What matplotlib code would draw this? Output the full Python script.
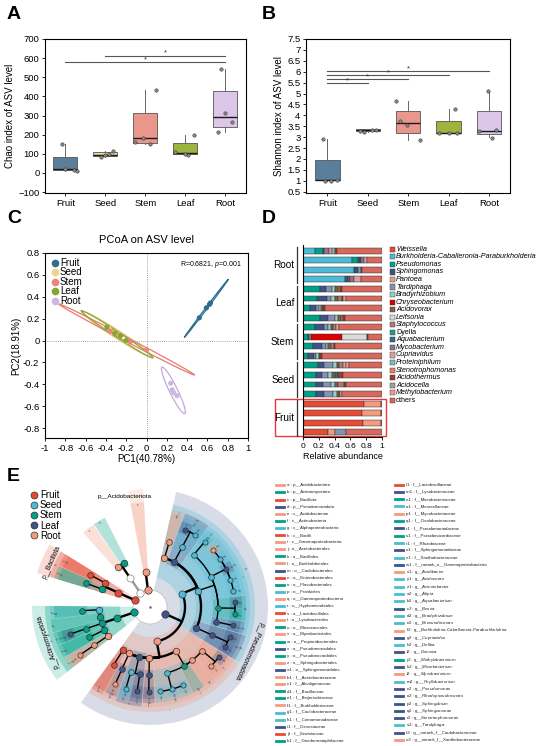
import numpy as np
import matplotlib
matplotlib.use("Agg")
import matplotlib.pyplot as plt
from matplotlib.patches import Wedge, Rectangle, Ellipse, Circle
from matplotlib.lines import Line2D

# ============================ DATA ============================
groups = ["Fruit", "Seed", "Stem", "Leaf", "Root"]

# ---- A: Chao index of ASV level ----
chao_whislo = [10, 85, 150, 95, 215]
chao_q1 = [15, 90, 158, 98, 240]
chao_med = [20, 96, 180, 106, 290]
chao_q3 = [85, 108, 315, 155, 430]
chao_whishi = [150, 112, 435, 200, 545]
chao_fruit = [150, 20, 15, 10]
chao_seed = [85, 112, 95, 100]
chao_stem = [435, 185, 160, 150]
chao_leaf = [200, 110, 95, 100]
chao_root = [545, 315, 265, 215]
chao_sig_from = [1, 2]
chao_sig_to = [5, 5]
chao_sig_y = [580, 613]

# ---- B: Shannon index of ASV level ----
shan_whislo = [1.0, 3.25, 2.85, 3.18, 3.0]
shan_q1 = [1.02, 3.28, 3.2, 3.18, 3.15]
shan_med = [1.03, 3.32, 3.65, 3.2, 3.3]
shan_q3 = [1.95, 3.36, 4.2, 3.75, 4.22]
shan_whishi = [2.9, 3.38, 4.65, 4.3, 5.1]
shan_fruit = [2.9, 1.0, 1.02, 1.0]
shan_seed = [3.3, 3.22, 3.35, 3.32]
shan_stem = [4.65, 3.75, 3.55, 2.85]
shan_leaf = [4.3, 3.2, 3.2, 3.2]
shan_root = [5.1, 3.3, 3.32, 2.95]
shan_sig_from = [1, 1, 1, 1]
shan_sig_to = [2, 3, 4, 5]
shan_sig_y = [5.48, 5.66, 5.85, 6.04]

# ---- C: PCoA on ASV level ----
pc_fruit_x = [0.52, 0.63, 0.62, 0.59]
pc_fruit_y = [0.208, 0.343, 0.330, 0.299]
pc_seed_x = [-0.370, -0.332, -0.266, -0.191]
pc_seed_y = [0.111, 0.071, 0.053, -0.004]
pc_stem_x = [-0.16, 0.0, -0.263, -0.357]
pc_stem_y = [-0.01, -0.085, 0.0495, 0.0845]
pc_leaf_x = [-0.390, -0.314, -0.256, -0.2005]
pc_leaf_y = [0.121, 0.064, 0.044, 0.0015]
pc_root_x = [0.238, 0.253, 0.301, 0.268]
pc_root_y = [-0.390, -0.450, -0.504, -0.476]
pc1_label = "PC1(40.78%)"
pc2_label = "PC2(18.91%)"
anosim_text = "R=0.6821, $\\mathit{p}$=0.001"

# ---- D: relative abundance (rows top->bottom: Root1-4, Leaf1-4, Stem1-4, Seed1-4, Fruit1-4) ----
genus_names = ["Weissella", "Burkholderia-Caballeronia-Paraburkholderia", "Pseudomonas",
               "Sphingomonas", "Pantoea", "Tardiphaga", "Bradyrhizobium", "Chryseobacterium",
               "Acidovorax", "Leifsonia", "Staphylococcus", "Dyella", "Aquabacterium",
               "Mycobacterium", "Cupriavidus", "Proteiniphilum", "Stenotrophomonas",
               "Acidothermus", "Acidocella", "Methylobacterium", "others"]
weissella = [0, 0, 0, 0, 0, 0, 0, 0, 0, 0, 0, 0, 0, 0, 0, 0, .77, .75, .76, .32]
burkholderia = [.15, .62, .64, .53, 0, 0, 0, 0, 0, 0, 0, 0, 0, 0, 0, 0, 0, 0, 0, 0]
pseudomonas = [.10, .08, .02, 0, .21, .18, .09, .22, .15, .06, .13, .06, .19, .16, .17, .17, 0, 0, 0, 0]
sphingomonas = [.02, .02, .04, .04, .08, .12, .07, .10, .11, .02, .11, .08, .08, .08, .08, .10, 0, 0, 0, 0]
pantoea = [0, 0, 0, 0, 0, 0, 0, 0, 0, 0, 0, 0, 0, 0, 0, 0, .22, .24, .23, .08]
tardiphaga = [0, 0, .03, 0, .08, .05, .04, .08, .06, .02, .05, .03, .11, .08, .10, .11, 0, 0, 0, .15]
bradyrhizobium = [0, 0, 0, 0, .04, .05, .03, .04, .03, 0, .03, .03, .05, .05, .05, .05, 0, 0, 0, 0]
chryseobacterium = [0, 0, 0, 0, 0, 0, 0, 0, 0, .39, 0, 0, 0, 0, 0, 0, 0, 0, 0, 0]
acidovorax = [0, .02, .02, .02, .03, .04, .02, .04, .03, 0, .04, .02, .03, .04, .04, .02, 0, 0, 0, 0]
leifsonia = [0, 0, 0, 0, 0, 0, 0, 0, 0, .32, 0, 0, 0, 0, 0, 0, 0, 0, 0, 0]
staphylococcus = [0, 0, 0, 0, .03, .05, 0, .03, .04, 0, .03, 0, .05, 0, .08, .02, 0, 0, 0, 0]
dyella = [0, 0, 0, 0, 0, 0, 0, 0, 0, 0, 0, 0, 0, 0, 0, 0, 0, 0, 0, 0]
aquabacterium = [0, 0, 0, 0, 0, 0, 0, 0, 0, 0, 0, 0, 0, .03, 0, 0, 0, 0, 0, 0]
mycobacterium = [.06, .03, 0, .06, 0, 0, 0, 0, 0, 0, 0, 0, 0, 0, 0, 0, 0, 0, 0, 0]
cupriavidus = [.04, .04, 0, .08, 0, 0, 0, 0, 0, 0, 0, 0, .04, 0, 0, 0, 0, 0, 0, 0]
proteiniphilum = [.03, 0, 0, 0, 0, 0, 0, 0, 0, 0, 0, 0, 0, 0, 0, 0, 0, 0, 0, 0]
stenotrophomonas = [0, 0, 0, 0, 0, 0, 0, 0, 0, 0, 0, 0, 0, 0, 0, 0, 0, 0, 0, 0]
acidothermus = [.03, 0, 0, 0, .02, .02, .03, .02, 0, .01, .02, .02, 0, .06, .02, 0, 0, 0, 0, 0]
acidocella = [0, 0, 0, 0, 0, 0, 0, 0, 0, 0, 0, 0, 0, 0, 0, 0, 0, 0, 0, 0]
methylobacterium = [0, 0, 0, 0, 0, .03, 0, 0, .03, 0, 0, 0, .03, 0, 0, .02, 0, 0, 0, 0]
others = [.57, .19, .25, .27, .51, .46, .72, .47, .55, .18, .59, .76, .42, .50, .46, .51, .01, .01, .01, .45]
sample_groups = ["Root", "Leaf", "Stem", "Seed", "Fruit"]

# ---- E: LEfSe cladogram (taxon, parent, enriched group, label letter) ----
tax_name = [
    "root",
    "p__Acidobacteriota", "c__Acidobacteriae",
    "p__Bacteroidota", "c__Bacteroidia", "o__Flavobacteriales", "o__Sphingobacteriales",
    "p__Bacillota", "c__Bacilli", "o__Lactobacillales", "f__Lactobacillaceae", "o__Bacillales", "f__Bacillaceae",
    "p__Actinomycetota", "c__Actinobacteria", "o__Frankiales", "f__Geodermatophilaceae",
    "o__Propionibacteriales", "o__Micrococcales", "f__Microbacteriaceae", "g__Microbacterium",
    "o__Pseudonocardiales", "f__Pseudonocardiaceae", "o__Mycobacteriales", "f__Mycobacteriaceae",
    "g__Mycobacterium",
    "p__Pseudomonadota", "c__Gammaproteobacteria", "o__Enterobacterales", "f__Erwiniaceae",
    "o__Gammaproteobacteria", "f__norank_o__Gammaproteobacteria", "g__Acidibacter",
    "o__Pseudomonadales", "f__Moraxellaceae", "g__Acinetobacter", "f__Pseudomonadaceae", "g__Pseudomonas",
    "o__Lysobacterales", "f__Lysobacteraceae", "g__Stenotrophomonas",
    "o__Burkholderiales", "f__Comamonadaceae", "g__Acidovorax", "g__Aquabacterium", "g__Delftia",
    "f__Oxalobacteraceae", "f__Alcaligenaceae", "f__Burkholderiaceae",
    "g__Burkholderia-Caballeronia-Paraburkholderia", "g__Cupriavidus",
    "c__Alphaproteobacteria", "o__Sphingomonadales", "f__Sphingomonadaceae", "g__Sphingobium",
    "g__Sphingomonas", "o__Hyphomicrobiales", "f__Devosiaceae", "g__Devosia", "f__Beijerinckiaceae",
    "g__Methylobacterium", "g__Bosea", "f__Xanthobacteraceae", "g__Afipia", "g__Bradyrhizobium",
    "g__Rhodopseudomonas", "g__Tardiphaga", "g__norank_f__Xanthobacteraceae", "f__Rhizobiaceae",
    "g__Phyllobacterium", "o__Caulobacterales", "f__Caulobacteraceae", "g__Brevundimonas",
    "g__norank_f__Caulobacteraceae", "o__Acetobacterales", "f__Acetobacteraceae",
]
tax_parent = [
    "",
    "root", "p__Acidobacteriota",
    "root", "p__Bacteroidota", "c__Bacteroidia", "c__Bacteroidia",
    "root", "p__Bacillota", "c__Bacilli", "o__Lactobacillales", "c__Bacilli", "o__Bacillales",
    "root", "p__Actinomycetota", "c__Actinobacteria", "o__Frankiales",
    "c__Actinobacteria", "c__Actinobacteria", "o__Micrococcales", "f__Microbacteriaceae",
    "c__Actinobacteria", "o__Pseudonocardiales", "c__Actinobacteria", "o__Mycobacteriales",
    "f__Mycobacteriaceae",
    "root", "p__Pseudomonadota", "c__Gammaproteobacteria", "o__Enterobacterales",
    "c__Gammaproteobacteria", "o__Gammaproteobacteria", "f__norank_o__Gammaproteobacteria",
    "c__Gammaproteobacteria", "o__Pseudomonadales", "f__Moraxellaceae", "o__Pseudomonadales", "f__Pseudomonadaceae",
    "c__Gammaproteobacteria", "o__Lysobacterales", "f__Lysobacteraceae",
    "c__Gammaproteobacteria", "o__Burkholderiales", "f__Comamonadaceae", "f__Comamonadaceae", "f__Comamonadaceae",
    "o__Burkholderiales", "o__Burkholderiales", "o__Burkholderiales",
    "f__Burkholderiaceae", "f__Burkholderiaceae",
    "p__Pseudomonadota", "c__Alphaproteobacteria", "o__Sphingomonadales", "f__Sphingomonadaceae",
    "f__Sphingomonadaceae", "c__Alphaproteobacteria", "o__Hyphomicrobiales", "f__Devosiaceae", "o__Hyphomicrobiales",
    "f__Beijerinckiaceae", "f__Beijerinckiaceae", "o__Hyphomicrobiales", "f__Xanthobacteraceae", "f__Xanthobacteraceae",
    "f__Xanthobacteraceae", "f__Xanthobacteraceae", "f__Xanthobacteraceae", "o__Hyphomicrobiales",
    "f__Rhizobiaceae", "c__Alphaproteobacteria", "o__Caulobacterales", "f__Caulobacteraceae",
    "f__Caulobacteraceae", "c__Alphaproteobacteria", "o__Acetobacterales",
]
tax_group = [
    "",
    "Root", "Root",
    "", "", "Stem", "Root",
    "Fruit", "Fruit", "Fruit", "Fruit", "Stem", "Stem",
    "Stem", "Stem", "Seed", "Stem", "Stem", "Stem", "Stem", "Leaf", "Stem", "Stem", "Root", "Root", "Root",
    "Leaf", "Root", "Fruit", "Fruit", "Root", "Leaf", "Root", "Leaf", "Seed", "Seed", "Leaf", "Leaf",
    "Root", "Leaf", "Leaf", "Root", "Seed", "Seed", "Seed", "Seed", "Stem", "Root", "Root", "Root", "Leaf",
    "Seed", "Leaf", "Leaf", "Leaf", "Leaf", "Seed", "Leaf", "Leaf", "Stem", "Stem", "Leaf", "Seed", "Seed",
    "Seed", "Leaf", "Seed", "Root", "Seed", "Seed", "Leaf", "Seed", "Seed", "Leaf", "Root", "Root",
]
tax_letter = [
    "",
    "a", "e",
    "", "", "o", "z",
    "c", "h", "s", "l1", "k", "d1",
    "b", "f", "p", "k1", "w", "u", "n1", "k2", "y", "s1", "v", "p1", "l2",
    "d", "i", "n", "j1", "q", "w1", "x1", "x", "o1", "z1", "r1", "n2", "t", "m1", "r2",
    "l", "h1", "y1", "b2", "h2", "q1", "c1", "f1", "f2", "g2",
    "g", "a1", "u1", "p2", "q2", "r", "i1", "i2", "e1", "j2", "c2", "v1", "a2", "d2", "o2", "s2", "u2",
    "t1", "m2", "m", "g1", "e2", "t2", "j", "b1",
]

# ============================ STYLE ============================
plt.rcParams["font.family"] = ["Liberation Sans", "DejaVu Sans"]
plt.rcParams["mathtext.fontset"] = "custom"
plt.rcParams["mathtext.it"] = "Liberation Sans:italic"
plt.rcParams["mathtext.rm"] = "Liberation Sans"
plt.rcParams["axes.linewidth"] = 0.8
plt.rcParams["xtick.major.size"] = 2.5
plt.rcParams["ytick.major.size"] = 2.5
plt.rcParams["xtick.major.width"] = 0.6
plt.rcParams["ytick.major.width"] = 0.6
plt.rcParams["xtick.major.pad"] = 1.5
plt.rcParams["ytick.major.pad"] = 1.5

W, H = 550, 746
fig = plt.figure(figsize=(W / 100, H / 100), dpi=100)


def add_ax(l, t, r, b):
    return fig.add_axes([l / W, 1 - b / H, (r - l) / W, (b - t) / H])


def fx(x):
    return x / W


def fy(y):
    return 1 - y / H


box_colors = ["#5b7f9a", "#e9d6a0", "#e9968b", "#9db53e", "#dcc7e8"]
jit_A = [[-0.08, 0.0, 0.22, 0.28], [-0.1, 0.18, 0.0, 0.08], [0.27, -0.07, -0.27, 0.12],
         [0.21, -0.25, 0.07, 0.0], [-0.1, 0.0, 0.18, -0.17]]
jit_B = [[-0.12, -0.06, 0.23, 0.1], [-0.2, -0.1, 0.1, 0.2], [-0.29, -0.2, -0.02, 0.29],
         [0.16, -0.23, 0.0, 0.22], [-0.02, -0.24, 0.17, 0.08]]


def box_panel(ax, lo, q1, med, q3, hi, pts, jit):
    stats = [dict(whislo=a, q1=b, med=c, q3=d, whishi=e, fliers=[])
             for a, b, c, d, e in zip(lo, q1, med, q3, hi)]
    bp = ax.bxp(stats, positions=np.arange(1, 6), widths=0.6, patch_artist=True,
                showcaps=False, showfliers=False,
                boxprops=dict(edgecolor="#555555", linewidth=0.6),
                medianprops=dict(color="#1a1a1a", linewidth=1.0),
                whiskerprops=dict(color="#666666", linewidth=0.7))
    for patch, c in zip(bp["boxes"], box_colors):
        patch.set_facecolor(c)
    for i, (vals, jj) in enumerate(zip(pts, jit)):
        ax.scatter(i + 1 + np.array(jj), vals, s=6, facecolor="#8a8a8a",
                   edgecolor="#3a3a3a", linewidth=0.4, zorder=4)
    ax.set_xticks(np.arange(1, 6))
    ax.set_xticklabels(groups, fontsize=6.8)
    ax.tick_params(axis="y", labelsize=6.8)


def sig_lines(ax, f, t, y, off):
    for a, b, yy in zip(f, t, y):
        ax.plot([a, b], [yy, yy], color="#555555", lw=0.8)
        ax.text((a + b) / 2, yy + off, "*", ha="center", va="bottom", fontsize=5.5, color="#333333")


# ---------------- Panel A ----------------
axA = add_ax(45, 39, 246, 193)
box_panel(axA, chao_whislo, chao_q1, chao_med, chao_q3, chao_whishi,
          [chao_fruit, chao_seed, chao_stem, chao_leaf, chao_root], jit_A)
axA.set_xlim(0.49, 5.52)
axA.set_ylim(-105, 700)
axA.set_yticks(np.arange(-100, 701, 100))
axA.set_ylabel("Chao index of ASV level", fontsize=7, labelpad=2)
sig_lines(axA, chao_sig_from, chao_sig_to, chao_sig_y, -6)

# ---------------- Panel B ----------------
axB = add_ax(306, 39, 510, 193)
box_panel(axB, shan_whislo, shan_q1, shan_med, shan_q3, shan_whishi,
          [shan_fruit, shan_seed, shan_stem, shan_leaf, shan_root], jit_B)
axB.set_xlim(0.47, 5.52)
axB.set_ylim(0.44, 7.5)
yt = np.arange(0.5, 7.51, 0.5)
axB.set_yticks(yt)
axB.set_yticklabels([f"{v:g}" for v in yt])
axB.set_ylabel("Shannon index of ASV level", fontsize=7, labelpad=2)
sig_lines(axB, shan_sig_from, shan_sig_to, shan_sig_y, -0.05)

# ---------------- Panel C ----------------
axC = add_ax(45, 253, 248, 438)
pc_colors = ["#2e6f8e", "#f0d48a", "#e9877c", "#86a534", "#cdb7df"]
pc_edge = ["#2e6f8e", "#e3c56c", "#e87a6e", "#8aaa36", "#c2aad8"]
pc_x = [pc_fruit_x, pc_seed_x, pc_stem_x, pc_leaf_x, pc_root_x]
pc_y = [pc_fruit_y, pc_seed_y, pc_stem_y, pc_leaf_y, pc_root_y]
axC.axhline(0, color="#888888", ls=(0, (1, 1.5)), lw=0.6, zorder=0)
axC.axvline(0, color="#888888", ls=(0, (1, 1.5)), lw=0.6, zorder=0)
k_ell = np.sqrt(2 * 9.552)   # 95% ellipse, F(2, n-1) with n = 4
for xs, ys, c, ec, g in zip(pc_x, pc_y, pc_colors, pc_edge, groups):
    xs = np.array(xs)
    ys = np.array(ys)
    cov = np.cov(xs, ys)
    vals, vecs = np.linalg.eigh(cov)
    o = vals.argsort()[::-1]
    vals, vecs = vals[o], vecs[:, o]
    ang = np.degrees(np.arctan2(vecs[1, 0], vecs[0, 0]))
    wdt, hgt = 2 * k_ell * np.sqrt(np.maximum(vals, 0))
    axC.add_patch(Ellipse((xs.mean(), ys.mean()), wdt, hgt, angle=ang,
                          facecolor="none", edgecolor=ec, lw=0.9))
    axC.scatter(xs, ys, s=14, color=c, edgecolor="none", zorder=4, label=g)
axC.set_xlim(-1, 1)
axC.set_ylim(-0.89, 0.8)
xt = np.round(np.arange(-1, 1.01, 0.2), 1)
axC.set_xticks(xt)
axC.set_xticklabels([f"{v + 0.0:g}" for v in xt], fontsize=6.8)
ytc = np.round(np.arange(-0.8, 0.81, 0.2), 1)
axC.set_yticks(ytc)
axC.set_yticklabels([f"{v + 0.0:g}" for v in ytc], fontsize=6.8)
axC.set_xlabel(pc1_label, fontsize=7, labelpad=1)
axC.set_ylabel(pc2_label, fontsize=7, labelpad=1)
axC.set_title("PCoA on ASV level", fontsize=8, pad=7)
axC.text(0.97, 0.965, anosim_text, transform=axC.transAxes, ha="right", va="top", fontsize=5)
leg_h = [Line2D([], [], marker="o", ls="", color=c, markersize=4.5) for c in pc_colors]
axC.legend(leg_h, groups, loc="upper left", bbox_to_anchor=(-0.01, 1.01), frameon=False,
           fontsize=7, handletextpad=0.05, labelspacing=-0.05, borderpad=0.2, handlelength=1.0)

# ---------------- Panel D ----------------
axD = add_ax(303, 245, 382, 437)
d_colors = ["#E64B35", "#4DBBD5", "#00A087", "#3C5488", "#F39B7F", "#8491B4", "#91D1C2",
            "#DC0000", "#7E6148", "#DADADA", "#B07A6E", "#1F9E89", "#2F6E86", "#8E7393",
            "#D9A0A0", "#84B9C4", "#E0805F", "#A23B2A", "#A89F95", "#EC9C8B", "#D9685C"]
series = [weissella, burkholderia, pseudomonas, sphingomonas, pantoea, tardiphaga, bradyrhizobium,
          chryseobacterium, acidovorax, leifsonia, staphylococcus, dyella, aquabacterium,
          mycobacterium, cupriavidus, proteiniphilum, stenotrophomonas, acidothermus, acidocella,
          methylobacterium, others]
n_s = len(weissella)
ypos = np.arange(n_s)[::-1].astype(float)
left = np.zeros(n_s)
for vals, col in zip(series, d_colors):
    v = np.array(vals, dtype=float)
    m = v > 0
    axD.barh(ypos[m], v[m], left=left[m], height=0.62, color=col, edgecolor="#333333", linewidth=0.35)
    left += v
axD.set_xlim(0, 1)
axD.set_ylim(-0.49, 19.6)
axD.set_yticks([])
axD.spines["top"].set_visible(False)
axD.spines["right"].set_visible(False)
dxt = np.round(np.arange(0, 1.01, 0.2), 1)
axD.set_xticks(dxt)
axD.set_xticklabels([f"{v:g}" for v in dxt], fontsize=6)
axD.set_xlabel("Relative abundance", fontsize=6.5, labelpad=1.5)
per = n_s // len(sample_groups)
for gi, g in enumerate(sample_groups):
    ys = ypos[gi * per:(gi + 1) * per]
    axD.plot([-0.075, -0.075], [ys.min() - 0.35, ys.max() + 0.35], color="#333333", lw=0.9, clip_on=False)
    axD.text(-0.11, ys.mean(), g, ha="right", va="center", fontsize=7.2)
fr = ypos[(len(sample_groups) - 1) * per:]
axD.add_patch(Rectangle((-0.355, fr.min() - 0.42), 1.405, fr.max() - fr.min() + 0.9,
                        fill=False, edgecolor="#e8383d", lw=1.0, clip_on=False))
for i, (name, col) in enumerate(zip(genus_names, d_colors)):
    yy = 249.3 + 7.55 * i
    fig.add_artist(Rectangle((fx(389.5), fy(yy + 2.6)), 5.2 / W, 5.2 / H, facecolor=col,
                             edgecolor="#333333", lw=0.3, transform=fig.transFigure))
    it = "normal" if name in ("Dyella", "others") else "italic"
    fig.text(fx(396), fy(yy), name, fontsize=5.2, style=it, va="center", ha="left")

# ---------------- Panel E: cladogram ----------------
grp_col = {"Fruit": "#E64B35", "Seed": "#4DBBD5", "Stem": "#00A087", "Leaf": "#3C5488", "Root": "#F39B7F"}
axE = add_ax(0, 470, 270, 746)
axE.set_xlim(-150, 120)
axE.set_ylim(-139, 137)
axE.axis("off")

n_t = len(tax_name)
idx = {n: i for i, n in enumerate(tax_name)}
children = {i: [] for i in range(n_t)}
par = [-1] * n_t
for i, p in enumerate(tax_parent):
    if p:
        par[i] = idx[p]
        children[idx[p]].append(i)
level = [0 if n == "root" else "pcofg".index(n[0]) + 1 for n in tax_name]


def phylum_of(i):
    while level[i] > 1:
        i = par[i]
    return i


leaves = [i for i in range(n_t) if level[i] > 0 and not children[i]]
n_phyla = len(children[0])
unit = 360.0 / (len(leaves) + 2 * n_phyla)
ang = {}
a_cur = 97.0
prev = None
for i in leaves:
    ph = phylum_of(i)
    if prev is not None:
        a_cur += unit if ph == prev else 3 * unit
    ang[i] = a_cur
    prev = ph
lo = {}
hi = {}


def extent(i):
    if not children[i]:
        lo[i] = hi[i] = ang[i]
    else:
        for c in children[i]:
            extent(c)
        lo[i] = min(lo[c] for c in children[i])
        hi[i] = max(hi[c] for c in children[i])
        ang[i] = (lo[i] + hi[i]) / 2


extent(0)
rad_lv = [0, 17, 35, 51, 68, 85]
rout_lv = [0, 118, 105, 100, 96, 92]


def pol(r, t):
    return r * np.cos(np.radians(t)), r * np.sin(np.radians(t))


# highlight wedges
for lv in range(1, 6):
    for i in range(n_t):
        if level[i] != lv or not tax_group[i]:
            continue
        rin = 17 if lv == 1 else rad_lv[lv] - 5
        t1 = lo[i] - 0.47 * unit
        t2 = hi[i] + 0.47 * unit
        axE.add_patch(Wedge((0, 0), rout_lv[lv], t1, t2, width=rout_lv[lv] - rin,
                            facecolor=grp_col[tax_group[i]], alpha=0.3 if lv > 1 else 0.2,
                            edgecolor="none", zorder=1))
        if lv > 1:
            tx, ty = pol(rout_lv[lv] - 2.5, ang[i])
            axE.text(tx, ty, tax_letter[i], fontsize=2.2, color="#444444", ha="center", va="center",
                     rotation=ang[i] - 90, zorder=6)

axE.add_patch(Circle((0, 0), 17, facecolor="white", edgecolor="#bbbbbb", lw=0.5, zorder=2))
axE.plot([0], [0], marker="o", ms=0.8, color="#666666", zorder=3)

# branches
for p in range(n_t):
    if level[p] == 0 or not children[p]:
        continue
    r_c = rad_lv[level[p] + 1]
    sig_any = any(tax_group[c] for c in children[p])
    lw = 1.7 if level[p] + 1 <= 3 else 1.0
    x0, y0 = pol(rad_lv[level[p]], ang[p])
    x1, y1 = pol(r_c, ang[p])
    axE.plot([x0, x1], [y0, y1], color="black" if sig_any else "#999999", lw=lw,
             solid_capstyle="round", zorder=3)
    for c in children[p]:
        tt = np.linspace(ang[p], ang[c], 40)
        xs, ys = pol(r_c, tt)
        axE.plot(xs, ys, color="black" if tax_group[c] else "#999999", lw=lw,
                 solid_capstyle="round", zorder=3)

# nodes
size_lv = [0, 28, 26, 22, 17, 14]
for i in range(1, n_t):
    x, y = pol(rad_lv[level[i]], ang[i])
    fc = grp_col[tax_group[i]] if tax_group[i] else "white"
    axE.scatter([x], [y], s=size_lv[level[i]], facecolor=fc,
                edgecolor="#333333" if tax_group[i] else "#888888", linewidth=0.5, zorder=5)

# phylum labels
for i in children[0]:
    if not tax_group[i]:
        continue
    if tax_name[i] == "p__Acidobacteriota":
        tx, ty = pol(110, ang[i])
        axE.text(tx - 12, ty + 1, tax_name[i], fontsize=4.6, ha="center", va="center", zorder=7)
    else:
        tx, ty = pol(108, ang[i])
        axE.text(tx, ty, tax_name[i], fontsize=4.8, ha="center", va="center",
                 rotation=ang[i] - 90, rotation_mode="anchor", zorder=7)

# group legend
eh = [Line2D([], [], marker="o", ls="", markerfacecolor=grp_col[g], markeredgecolor="#333333",
             markeredgewidth=0.5, markersize=5) for g in groups]
axE.legend(eh, groups, loc="upper left", bbox_to_anchor=(0.09, 0.945), frameon=False, fontsize=7,
           handletextpad=0.1, labelspacing=0.02, borderpad=0, handlelength=1.0)


# letter legend
def lkey(l):
    return (int(l[1:]) if len(l) > 1 else 0, l[0])


sig_nodes = sorted([i for i in range(n_t) if tax_letter[i]], key=lambda i: lkey(tax_letter[i]))


def leg_label(i):
    name = tax_name[i]
    if name.startswith("g__") and "norank" not in name:
        parts = name[3:].split("-")
        nm = "-".join("$\\mathit{" + pp + "}$" for pp in parts)
        return f"{tax_letter[i]} : g__{nm}"
    return f"{tax_letter[i]} : {name}"


n_left = 37
for k, i in enumerate(sig_nodes):
    if k < n_left:
        yy = 485.3 + 7.1 * k
        xs0 = 276
    else:
        yy = 484.5 + 7.3 * (k - n_left)
        xs0 = 395
    fig.add_artist(Line2D([fx(xs0), fx(xs0 + 8)], [fy(yy), fy(yy)], color=grp_col[tax_group[i]],
                          lw=2.0, transform=fig.transFigure))
    fig.text(fx(xs0 + 11), fy(yy), leg_label(i), fontsize=3.2, va="center", ha="left", color="#222222")

# panel letters
for lab, x, y in [("A", 7, 6), ("B", 262, 6), ("C", 7, 210), ("D", 262, 210), ("E", 7, 468)]:
    fig.text(fx(x), fy(y), lab, fontsize=14, fontweight="bold", va="top", ha="left")

fig.savefig("out.png", dpi=100)
